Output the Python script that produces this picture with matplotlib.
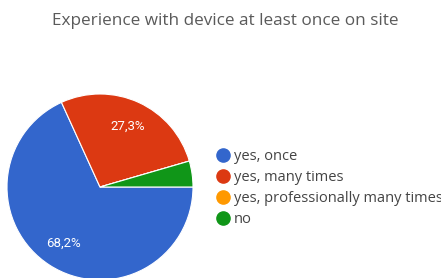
import matplotlib.pyplot as plt
from matplotlib.lines import Line2D

# Survey answers
labels = ['yes, once', 'yes, many times', 'yes, professionally many times', 'no']
shares = [68.2, 27.3, 0.0, 4.5]
colors = ['#3366cc', '#dc3912', '#ff9900', '#109618']

fig = plt.figure(figsize=(4.41, 2.78), dpi=100)
fig.patch.set_facecolor('white')

# pie centred at ~(100, 187) px, radius ~93 px
ax = fig.add_axes([7 / 441, -2 / 278, 186 / 441, 186 / 278])


def pct_label(p):
    if p < 10:
        return ''
    return f'{p:.1f}%'.replace('.', ',')


wedges, texts, autotexts = ax.pie(
    shares, colors=colors, startangle=0, counterclock=False,
    autopct=pct_label, pctdistance=0.72, radius=1,
    wedgeprops={'edgecolor': 'white', 'linewidth': 0.8},
    textprops={'color': 'white', 'fontsize': 9.5, 'family': 'Roboto'})
ax.set_xlim(-1, 1)
ax.set_ylim(-1, 1)
ax.set_aspect('equal')
ax.axis('off')

fig.text(0.511, 0.926, 'Experience with device at least once on site',
         ha='center', va='center', fontsize=12.3, color='#5a5a5a',
         family='Open Sans')

handles = [Line2D([], [], marker='o', linestyle='', markersize=9.5,
                  markerfacecolor=c, markeredgecolor=c) for c in colors]
fig.legend(handles, labels, loc='upper left', bbox_to_anchor=(0.475, 0.484),
           frameon=False, handletextpad=0.25, labelspacing=0.4,
           handlelength=1.0, borderaxespad=0,
           prop={'family': 'Open Sans', 'size': 10.5}, labelcolor='#444444')

plt.savefig('out.png', dpi=100)
